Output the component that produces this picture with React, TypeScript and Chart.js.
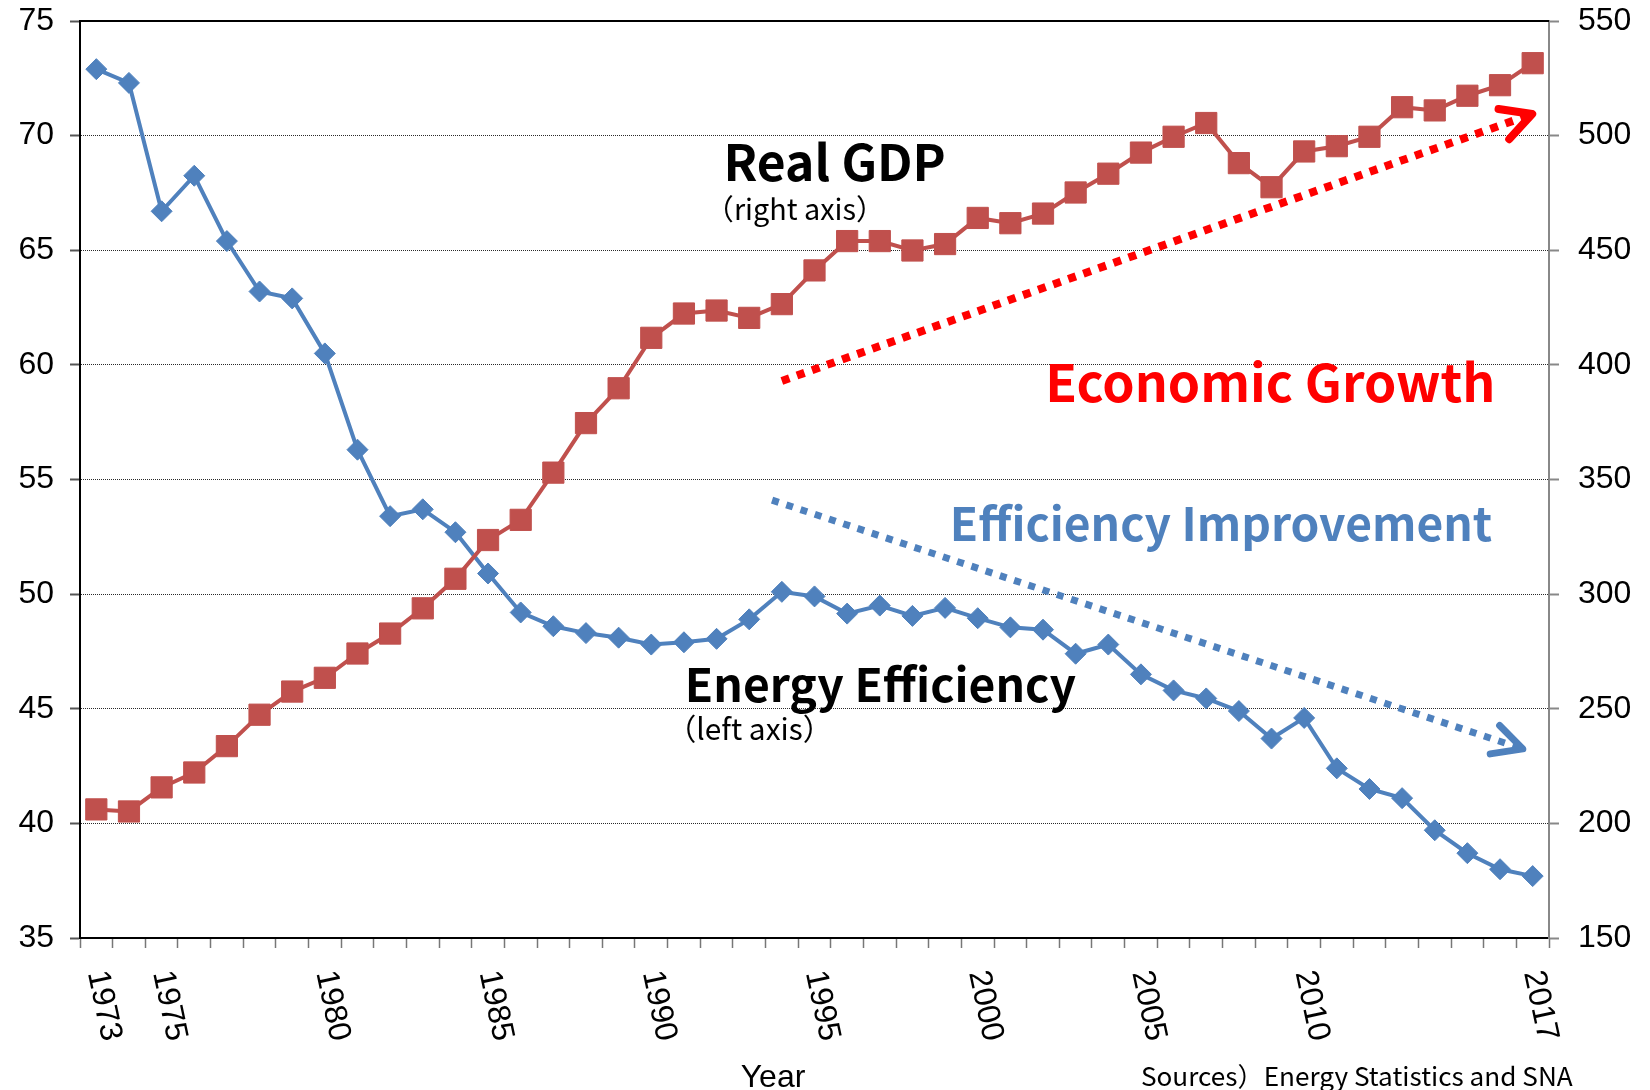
import React, { useEffect, useRef } from 'react';
import { Chart, registerables } from 'chart.js';

Chart.register(...registerables);

// ---------- data ----------
const years = [
  '1973', '1974', '1975', '1976', '1977', '1978', '1979', '1980', '1981', '1982',
  '1983', '1984', '1985', '1986', '1987', '1988', '1989', '1990', '1991', '1992',
  '1993', '1994', '1995', '1996', '1997', '1998', '1999', '2000', '2001', '2002',
  '2003', '2004', '2005', '2006', '2007', '2008', '2009', '2010', '2011', '2012',
  '2013', '2014', '2015', '2016', '2017',
];

// Energy efficiency (left axis)
const energyEfficiency = [
  72.9, 72.3, 66.7, 68.25, 65.4, 63.2, 62.9, 60.5, 56.3, 53.4,
  53.7, 52.7, 50.9, 49.2, 48.6, 48.3, 48.1, 47.8, 47.9, 48.05,
  48.9, 50.1, 49.9, 49.15, 49.5, 49.05, 49.4, 48.95, 48.55, 48.45,
  47.4, 47.8, 46.5, 45.8, 45.45, 44.9, 43.7, 44.6, 42.4, 41.5,
  41.1, 39.7, 38.7, 38.0, 37.7,
];

// Real GDP (right axis)
const realGDP = [
  206.1, 205.2, 215.7, 222.2, 233.7, 247.4, 257.5, 263.5, 274.1, 282.8,
  293.8, 306.7, 323.6, 332.4, 353.0, 374.6, 389.8, 411.8, 422.4, 423.7,
  420.5, 426.5, 441.2, 454.0, 454.0, 449.9, 452.7, 464.1, 461.8, 466.0,
  475.2, 483.4, 492.6, 499.5, 505.5, 488.0, 477.5, 493.1, 495.4, 499.5,
  512.4, 511.0, 517.4, 522.0, 531.6,
];

const xTickLabels = ['1973', '1975', '1980', '1985', '1990', '1995', '2000', '2005', '2010', '2017'];
const leftAxisRange = [35, 75, 5];
const rightAxisRange = [150, 550, 50];

// trend arrows in data space: [year, value]
const growthArrow = [[1994.0, 393], [2017.1, 510]]; // right axis
const improvementArrow = [[1993.7, 54.1], [2016.8, 43.2]]; // left axis

const BLUE = '#4F81BD';
const RED = '#C0504D';
const TICK_FONT = '"Liberation Sans", Arial, sans-serif';
const JP_FONT = '"Noto Sans CJK JP", "Noto Sans", sans-serif';

function fitText(
  ctx: CanvasRenderingContext2D,
  text: string,
  left: number,
  baseline: number,
  width: number,
  weight: string,
  family: string,
  color: string,
) {
  ctx.textAlign = 'left';
  ctx.textBaseline = 'alphabetic';
  ctx.font = `${weight} 100px ${family}`;
  const m = ctx.measureText(text);
  const vis = m.actualBoundingBoxLeft + m.actualBoundingBoxRight;
  const s = width / vis;
  const size = 100 * s;
  ctx.font = `${weight} ${size}px ${family}`;
  ctx.fillStyle = color;
  ctx.fillText(text, left + m.actualBoundingBoxLeft * s, baseline);
}

function drawArrow(
  ctx: CanvasRenderingContext2D,
  x1: number, y1: number, x2: number, y2: number,
  color: string, width: number, dash: number[], head: number, angleDeg: number,
) {
  ctx.save();
  ctx.strokeStyle = color;
  ctx.lineWidth = width;
  const ang = Math.atan2(y2 - y1, x2 - x1);
  const ex = x2 - Math.cos(ang) * width * 1.2;
  const ey = y2 - Math.sin(ang) * width * 1.2;
  ctx.setLineDash(dash);
  ctx.lineCap = 'butt';
  ctx.beginPath();
  ctx.moveTo(x1, y1);
  ctx.lineTo(ex, ey);
  ctx.stroke();
  ctx.setLineDash([]);
  ctx.lineCap = 'round';
  ctx.lineJoin = 'round';
  const a = (angleDeg * Math.PI) / 180;
  const tx = x2 - Math.cos(ang) * width * 0.5;
  const ty = y2 - Math.sin(ang) * width * 0.5;
  ctx.beginPath();
  ctx.moveTo(tx - head * Math.cos(ang - a), ty - head * Math.sin(ang - a));
  ctx.lineTo(tx, ty);
  ctx.lineTo(tx - head * Math.cos(ang + a), ty - head * Math.sin(ang + a));
  ctx.stroke();
  ctx.restore();
}

const overlayPlugin = {
  id: 'overlay',
  afterDraw(chart: any) {
    const { ctx, chartArea, scales } = chart;
    const xs = scales.x;
    const yl = scales.y;
    const yr = scales.y1;
    ctx.save();

    // top border of plot area
    ctx.strokeStyle = '#000';
    ctx.lineWidth = 2;
    ctx.beginPath();
    ctx.moveTo(chartArea.left, chartArea.top);
    ctx.lineTo(chartArea.right, chartArea.top);
    ctx.stroke();

    // rotated x labels (reading top to bottom)
    ctx.font = `32px ${TICK_FONT}`;
    ctx.fillStyle = '#000';
    ctx.textAlign = 'left';
    ctx.textBaseline = 'middle';
    for (const lab of xTickLabels) {
      const i = years.indexOf(lab);
      const px = xs.getPixelForValue(i);
      ctx.save();
      ctx.translate(px, chartArea.bottom + 33);
      ctx.rotate((78 * Math.PI) / 180);
      ctx.fillText(lab, 0, 0);
      ctx.restore();
    }

    // axis title & source
    ctx.font = `32px ${TICK_FONT}`;
    ctx.textAlign = 'center';
    ctx.textBaseline = 'alphabetic';
    ctx.fillText('Year', 773, 1087);
    fitText(ctx, 'Sources）Energy Statistics and SNA', 1142, 1086, 431, 'normal',
      '"Liberation Sans Narrow", "Noto Sans CJK JP", sans-serif', '#000');

    // trend arrows
    const gx1 = xs.getPixelForValue(growthArrow[0][0] - 1973);
    const gy1 = yr.getPixelForValue(growthArrow[0][1]);
    const gx2 = xs.getPixelForValue(growthArrow[1][0] - 1973);
    const gy2 = yr.getPixelForValue(growthArrow[1][1]);
    drawArrow(ctx, gx1, gy1, gx2, gy2, '#FF0000', 8, [8, 8], 34, 28);

    const bx1 = xs.getPixelForValue(improvementArrow[0][0] - 1973);
    const by1 = yl.getPixelForValue(improvementArrow[0][1]);
    const bx2 = xs.getPixelForValue(improvementArrow[1][0] - 1973);
    const by2 = yl.getPixelForValue(improvementArrow[1][1]);
    drawArrow(ctx, bx1, by1, bx2, by2, BLUE, 7, [7, 8], 33, 27);

    // annotations
    fitText(ctx, 'Real GDP', 728, 181, 216, 'bold', JP_FONT, '#000');
    fitText(ctx, '（right axis）', 725, 220, 140, 'normal', JP_FONT, '#000');
    fitText(ctx, 'Energy Efficiency', 689, 702, 387, 'bold', JP_FONT, '#000');
    fitText(ctx, '（left axis）', 687, 740, 125, 'normal', JP_FONT, '#000');
    fitText(ctx, 'Economic Growth', 1050, 402, 442, 'bold', JP_FONT, '#FF0000');
    fitText(ctx, 'Efficiency Improvement', 954, 541, 538, 'bold', JP_FONT, BLUE);

    ctx.restore();
  },
};

export default function App() {
  const canvasRef = useRef<HTMLCanvasElement | null>(null);

  useEffect(() => {
    document.body.style.margin = '0';
    document.body.style.overflow = 'hidden';
    const canvas = canvasRef.current;
    if (!canvas) return;
    const tickFont = { family: TICK_FONT, size: 32, lineHeight: 1 };
    const chart = new Chart(canvas, {
      type: 'line',
      data: {
        labels: years,
        datasets: [
          {
            label: 'Energy Efficiency',
            data: energyEfficiency,
            yAxisID: 'y',
            borderColor: BLUE,
            backgroundColor: BLUE,
            borderWidth: 4,
            pointStyle: 'rectRot',
            pointRadius: 10.5,
            pointBorderWidth: 1,
            pointBackgroundColor: BLUE,
            pointBorderColor: BLUE,
            tension: 0,
            order: 2,
            clip: false,
          },
          {
            label: 'Real GDP',
            data: realGDP,
            yAxisID: 'y1',
            borderColor: RED,
            backgroundColor: RED,
            borderWidth: 4,
            pointStyle: 'rect',
            pointRadius: 15,
            pointBorderWidth: 1,
            pointBackgroundColor: RED,
            pointBorderColor: RED,
            tension: 0,
            order: 1,
            clip: false,
          },
        ],
      },
      options: {
        responsive: false,
        animation: false,
        devicePixelRatio: 1,
        layout: { padding: { top: 21, left: 0, right: 0, bottom: 0 } },
        plugins: {
          legend: { display: false },
          tooltip: { enabled: false },
        },
        scales: {
          x: {
            type: 'category',
            offset: true,
            grid: {
              display: true,
              drawOnChartArea: false,
              drawTicks: true,
              tickLength: 10,
              tickColor: '#777',
              tickWidth: 1.5,
              offset: true,
            },
            border: { display: true, color: '#000', width: 2 },
            ticks: { display: false, autoSkip: false },
            afterFit: (s: any) => {
              s.height = 152;
              s.paddingLeft = 0;
              s.paddingRight = 0;
            },
          },
          y: {
            type: 'linear',
            position: 'left',
            min: leftAxisRange[0],
            max: leftAxisRange[1],
            ticks: { stepSize: leftAxisRange[2], font: tickFont, color: '#000', padding: 16 },
            grid: {
              color: (c: any) =>
                c.tick && (c.tick.value === leftAxisRange[0] || c.tick.value === leftAxisRange[1])
                  ? 'rgba(0,0,0,0)'
                  : '#2a2a2a',
              lineWidth: 1,
              tickLength: 10,
              tickColor: '#555',
              tickWidth: 2,
            },
            border: { display: true, color: '#000', width: 2, dash: [1, 1] },
            afterFit: (s: any) => {
              s.width = 80;
              s.paddingTop = 0;
              s.paddingBottom = 0;
            },
          },
          y1: {
            type: 'linear',
            position: 'right',
            min: rightAxisRange[0],
            max: rightAxisRange[1],
            ticks: { stepSize: rightAxisRange[2], font: tickFont, color: '#000', padding: 19 },
            grid: {
              drawOnChartArea: false,
              tickLength: 10,
              tickColor: '#888',
              tickWidth: 2,
            },
            border: { display: true, color: '#888', width: 2 },
            afterFit: (s: any) => {
              s.width = 101;
              s.paddingTop = 0;
              s.paddingBottom = 0;
            },
          },
        },
      } as any,
      plugins: [overlayPlugin],
    });
    return () => chart.destroy();
  }, []);

  return (
    <div style={{ position: 'absolute', left: 0, top: 0, width: 1650, height: 1090, overflow: 'hidden', background: '#fff' }}>
      <canvas ref={canvasRef} width={1650} height={1090} style={{ display: 'block' }} />
    </div>
  );
}
